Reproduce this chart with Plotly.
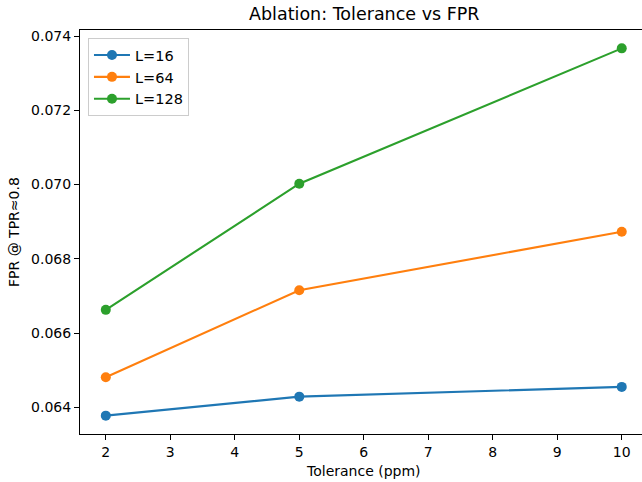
import plotly.graph_objects as go

tolerance = [2, 5, 10]
series_names = ["L=16", "L=64", "L=128"]
fpr_L16 = [0.063776, 0.064288, 0.064550]
fpr_L64 = [0.064809, 0.067154, 0.068728]
fpr_L128 = [0.066625, 0.070022, 0.073668]
colors = ["#1f77b4", "#ff7f0e", "#2ca02c"]
x_ticks = [2, 3, 4, 5, 6, 7, 8, 9, 10]
y_ticks = [0.064, 0.066, 0.068, 0.070, 0.072, 0.074]

W, H = 642, 482
L, T, B = 80, 30, 48
FONT = "DejaVu Sans"

fig = go.Figure()
for name, vals, c in zip(series_names, [fpr_L16, fpr_L64, fpr_L128], colors):
    fig.add_trace(go.Scatter(x=tolerance, y=vals, mode="lines+markers", name=name,
                             line=dict(color=c, width=2.1),
                             marker=dict(color=c, size=10)))

allv = fpr_L16 + fpr_L64 + fpr_L128
lo, hi = min(allv), max(allv)
pad = 0.05 * (hi - lo)

fig.update_layout(
    width=W, height=H,
    margin=dict(l=L, r=0, t=T, b=B),
    paper_bgcolor="white", plot_bgcolor="white",
    font=dict(family=FONT, size=14, color="black"),
    showlegend=True,
    legend=dict(x=0.0142, y=0.98, xanchor="left", yanchor="top",
                bgcolor="rgba(255,255,255,0.8)", bordercolor="#cccccc", borderwidth=1,
                font=dict(family=FONT, size=14.5, color="black"),
                tracegroupgap=0, itemwidth=36),
    xaxis=dict(range=[1.6, 10.314], tickvals=x_ticks, ticktext=[str(v) for v in x_ticks],
               showgrid=False, zeroline=False, showline=True, linecolor="black", linewidth=1.1,
               mirror=True, ticks="outside", ticklen=5, tickwidth=1.1, tickcolor="black",
               tickfont=dict(family=FONT, size=14, color="black")),
    yaxis=dict(range=[lo - pad, hi + pad], tickvals=y_ticks, ticktext=[f"{v:.3f}" for v in y_ticks],
               showgrid=False, zeroline=False, showline=True, linecolor="black", linewidth=1.1,
               ticks="outside", ticklen=5, tickwidth=1.1, tickcolor="black",
               tickfont=dict(family=FONT, size=14, color="black")),
    annotations=[
        dict(text="Ablation: Tolerance vs FPR", xref="paper", yref="paper", x=0.505, y=1.0,
             xanchor="center", yanchor="bottom", yshift=4, showarrow=False,
             font=dict(family=FONT, size=17.5, color="black")),
        dict(text="Tolerance (ppm)", xref="paper", yref="paper", x=0.505, y=-0.0916,
             xanchor="center", yanchor="middle", showarrow=False,
             font=dict(family=FONT, size=14, color="black")),
        dict(text="FPR @ TPR≈0.8", xref="paper", yref="paper", x=-0.1174, y=0.5,
             xanchor="center", yanchor="middle", textangle=-90, showarrow=False,
             font=dict(family=FONT, size=14, color="black")),
    ],
)

fig.write_html("out.html")
